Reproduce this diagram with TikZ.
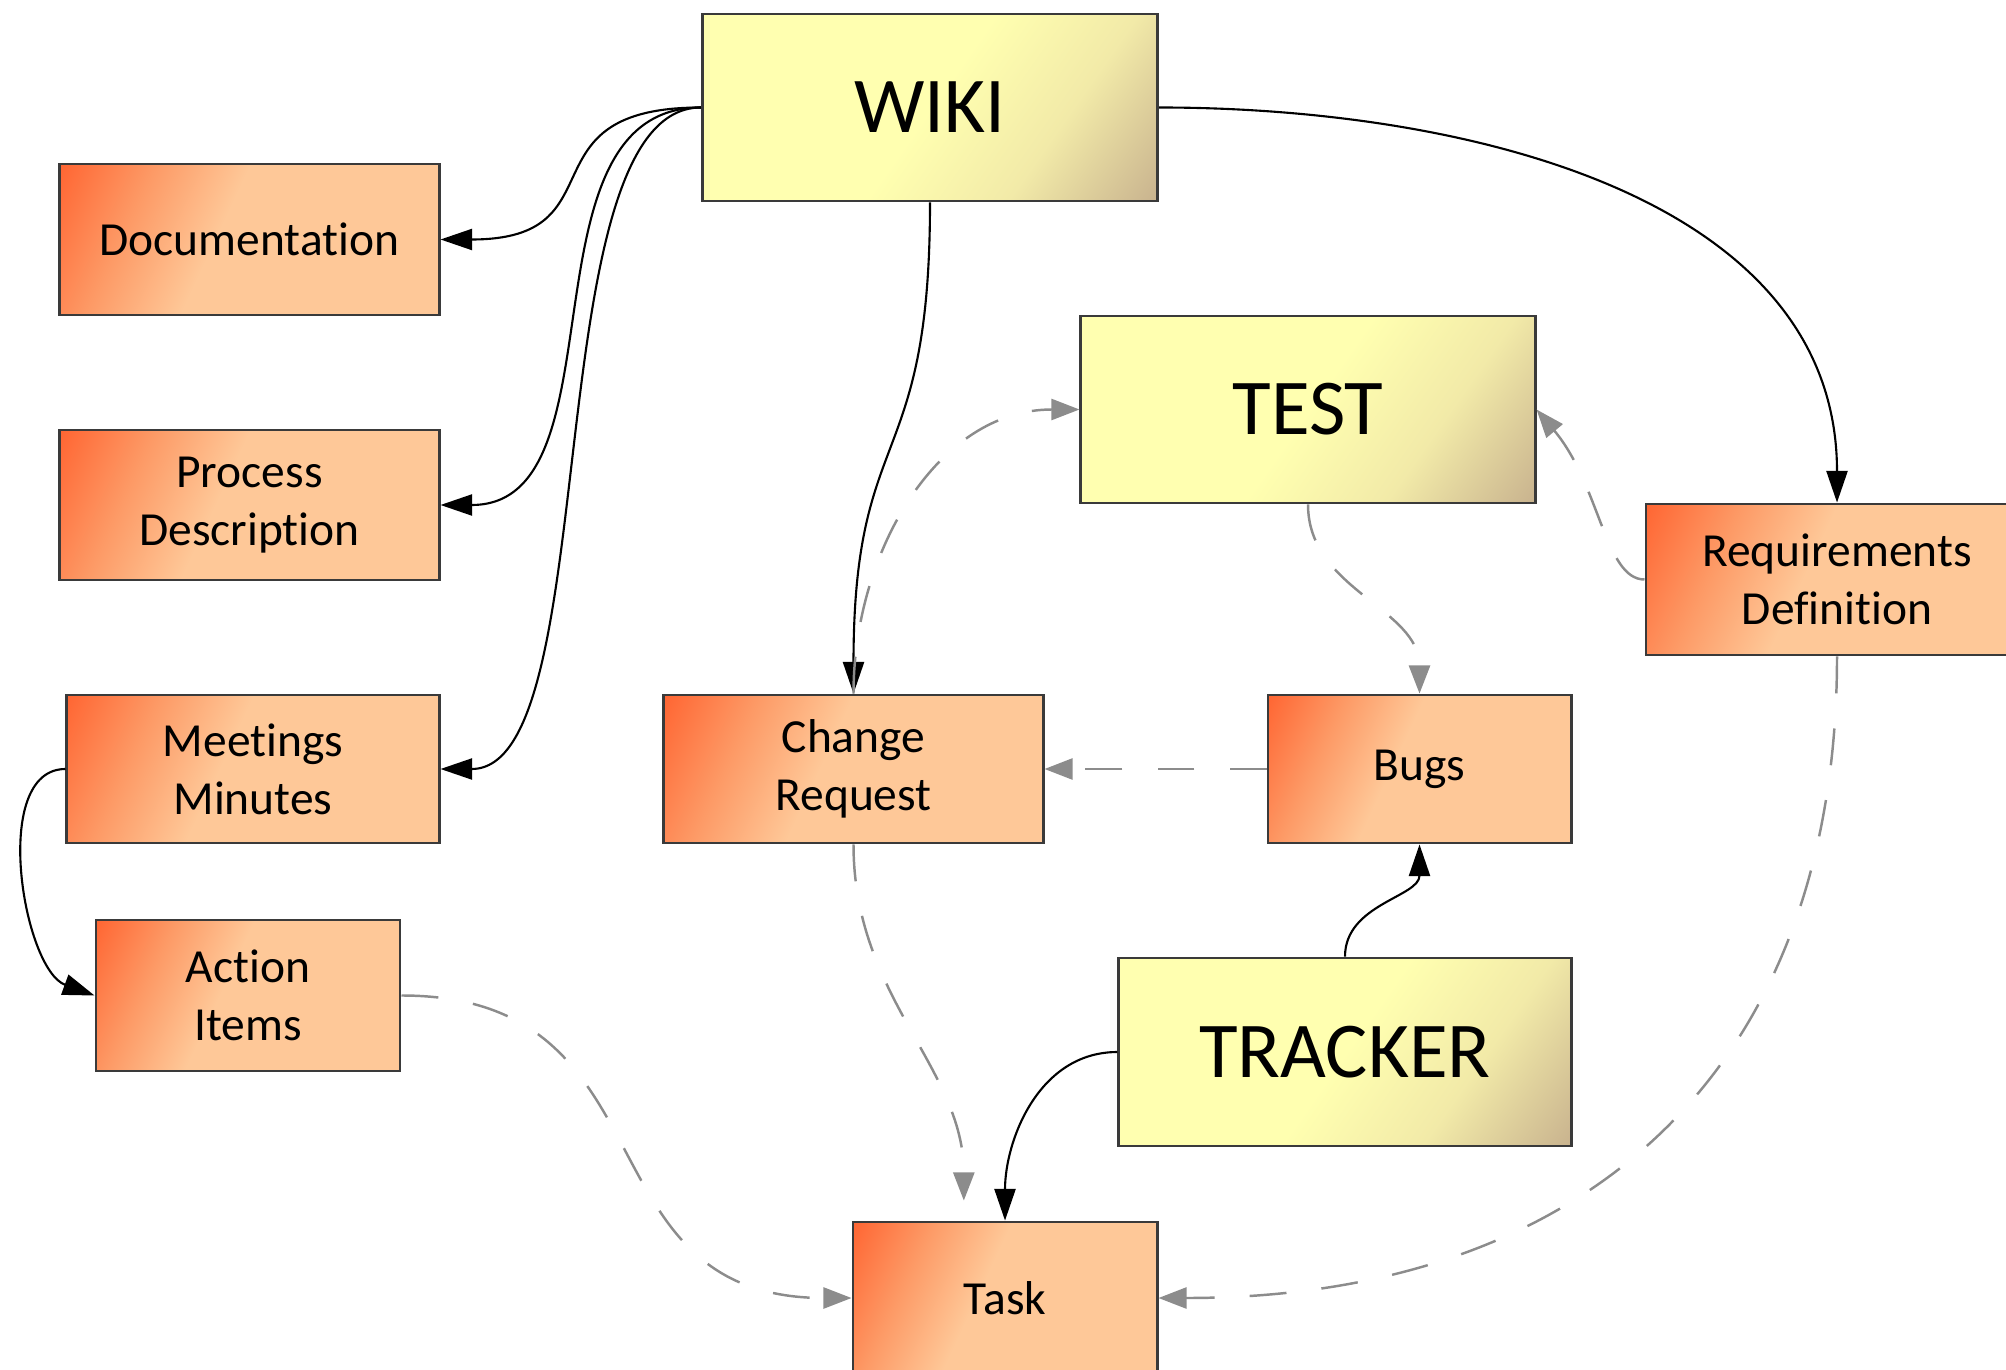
\documentclass[tikz,border=0pt]{standalone}
\usepackage{fontspec}
\setmainfont{Carlito}[Ligatures=NoCommon]
\usepackage{tikz}
\usetikzlibrary{shapes,arrows.meta,positioning,calc}
\definecolor{orDeep}{HTML}{FF6633}
\definecolor{orMid}{HTML}{FD9A66}
\definecolor{orLight}{HTML}{FEC898}
\definecolor{ylMain}{HTML}{FFFFB0}
\definecolor{ylMid}{HTML}{F2EAA8}
\definecolor{ylTan}{HTML}{C8B28E}
\definecolor{boxline}{HTML}{3A3A3A}
\definecolor{edgegray}{HTML}{8C8C8C}
\pgfdeclarehorizontalshading{orangeshade}{100bp}{color(0bp)=(orDeep); color(17bp)=(orDeep); color(31bp)=(orMid); color(45bp)=(orLight); color(100bp)=(orLight)}
\pgfdeclarehorizontalshading{yellowshade}{100bp}{color(0bp)=(ylMain); color(50bp)=(ylMain); color(67bp)=(ylMid); color(85bp)=(ylTan); color(100bp)=(ylTan)}
\tikzset{
item/.style = {draw=boxline, line width=0.8pt, rectangle, align=center, shade, shading=orangeshade, shading angle=-25, minimum width=3.79cm, minimum height=1.5cm, font=\fontsize{13.5}{16.5}\selectfont},
tool/.style = {draw=boxline, line width=0.8pt, rectangle, align=center, shade, shading=yellowshade, shading angle=-35, minimum width=4.55cm, minimum height=1.87cm, font=\fontsize{22.5}{26}\selectfont},
link/.style = {-{Triangle[length=9pt,width=6pt]}, line width=0.6pt, black},
weak/.style = {-{Triangle[length=8pt,width=6pt]}, line width=0.7pt, draw=edgegray, dash pattern=on 10.5pt off 10pt},
}
\begin{document}
\begin{tikzpicture}[x=0.01cm, y=-0.01cm]
    \clip (0,0) rectangle (2006,1370);
    \node [tool] (wiki) at (930,107.5) {WIKI};
    \node [tool, minimum width=4.54cm] (test) at (1308,409.5) {TEST};
    \node [tool, minimum width=4.52cm, minimum height=1.88cm] (tracker) at (1345,1052) {TRACKER};
    \node [item, minimum height=1.51cm] (doc) at (249.5,239.5) {Documentation};
    \node [item] (proc) at (249.5,505) {Process\\Description};
    \node [item, minimum width=3.72cm, minimum height=1.48cm] (meet) at (253,769) {Meetings\\Minutes};
    \node [item, minimum width=3.04cm, minimum height=1.51cm] (action) at (248,995.5) {Action\\Items};
    \node [item, minimum height=1.48cm] (change) at (853.5,769) {Change\\Request};
    \node [item, minimum width=3.03cm, minimum height=1.48cm] (bugs) at (1419.5,769) {Bugs};
    \node [item, minimum width=3.82cm, minimum height=1.51cm] (req) at (1837,579.5) {Requirements\\Definition};
    \node [item, minimum width=3.04cm, minimum height=1.52cm] (task) at (1005,1298) {Task};

    \draw [link] (wiki.west) to[out=180,in=0,looseness=1.6] (doc.east);
    \draw [link] (wiki.west) to[out=180,in=0] (proc.east);
    \draw [link] (wiki.west) to[out=180,in=0,looseness=0.6] (meet.east);
    \draw [link] (wiki.south) to[out=-90,in=90,looseness=1.4] (change.north);
    \draw [link] (wiki.east) to[out=0,in=90] (req.north);
    \draw [link] (meet.west) to[out=180,in=160,looseness=0.85] (action.west);
    \draw [link] (tracker.north) to[out=90,in=-90] (bugs.south);
    \draw [link] (tracker.west) to[out=180,in=90] (task.north);

    \draw [weak] (bugs.west) -- (change.east);
    \draw [weak] (change.north) to[out=90,in=180] (test.west);
    \draw [weak] (test.south) to[out=-90,in=90] (bugs.north);
    \draw [weak] (req.west) to[out=180,in=-50,out looseness=0.5,in looseness=1.25] (test.east);
    \draw [weak, shorten >=0.2cm] (change.south) to[out=-90,in=90] (task.118);
    \draw [weak] (action.east) to[out=0,in=180,looseness=1.3] (task.west);
    \draw [weak] (req.south) to[out=-90,in=0,looseness=1.15] (task.east);
\end{tikzpicture}
\end{document}
